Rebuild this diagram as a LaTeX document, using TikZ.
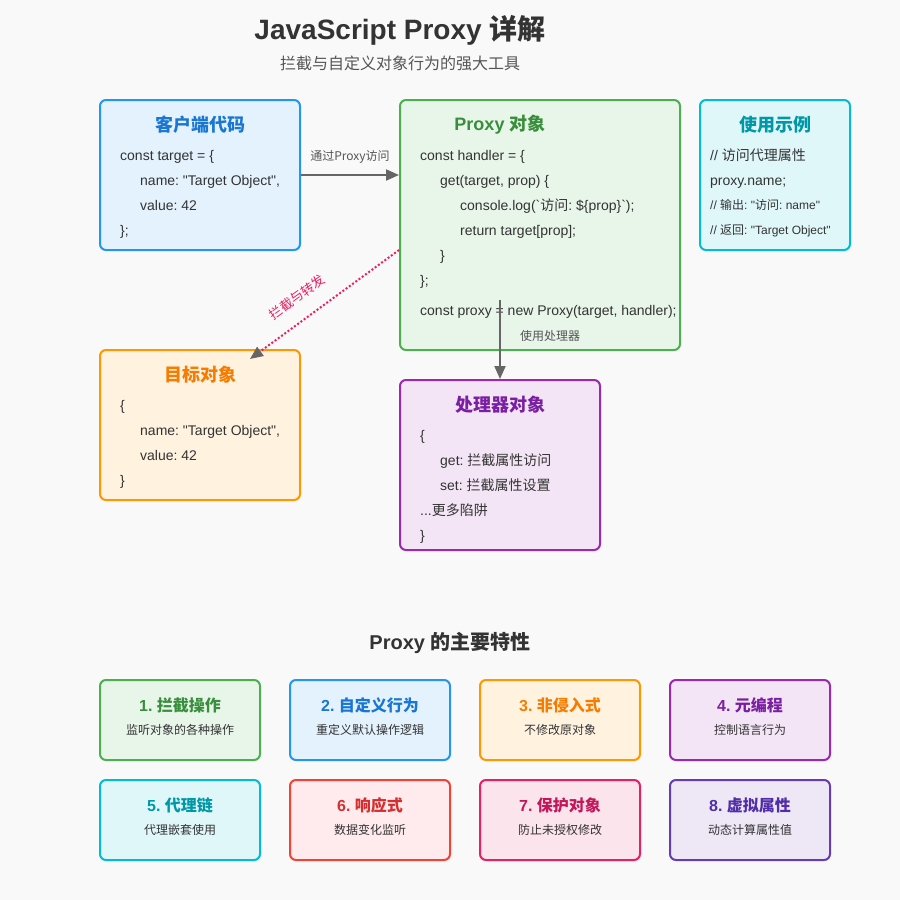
\documentclass[tikz,border=0pt]{standalone}
\usepackage{fontspec}
\newfontfamily\latin{Liberation Sans}
\newfontfamily\zh{Noto Sans CJK SC}
\usetikzlibrary{arrows.meta}
\definecolor{paper}{HTML}{F9F9F9}
\definecolor{ink}{HTML}{333333}
\definecolor{subink}{HTML}{555555}
\definecolor{arrowgray}{HTML}{666666}
\definecolor{linegreen}{HTML}{4CAF50}\definecolor{fillgreen}{HTML}{E8F5E9}\definecolor{textgreen}{HTML}{388E3C}
\definecolor{lineblue}{HTML}{2196F3}\definecolor{fillblue}{HTML}{E3F2FD}\definecolor{textblue}{HTML}{1976D2}
\definecolor{lineorange}{HTML}{FF9800}\definecolor{fillorange}{HTML}{FFF3E0}\definecolor{textorange}{HTML}{F57C00}
\definecolor{linepurple}{HTML}{9C27B0}\definecolor{fillpurple}{HTML}{F3E5F5}\definecolor{textpurple}{HTML}{7B1FA2}
\definecolor{linecyan}{HTML}{00BCD4}\definecolor{fillcyan}{HTML}{E0F7FA}\definecolor{textcyan}{HTML}{0097A7}
\definecolor{linered}{HTML}{F44336}\definecolor{fillred}{HTML}{FFEBEE}\definecolor{textred}{HTML}{D32F2F}
\definecolor{linepink}{HTML}{E91E63}\definecolor{fillpink}{HTML}{FCE4EC}\definecolor{textpink}{HTML}{C2185B}
\definecolor{lineviolet}{HTML}{673AB7}\definecolor{fillviolet}{HTML}{EDE7F6}\definecolor{textviolet}{HTML}{512DA8}
\tikzset{box/.style 2 args={draw=#1, fill=#2, line width=2pt, rounded corners=6pt, inner sep=0pt},
  head/.style={font=\latin\bfseries\fontsize{18}{20}\selectfont, text=#1},
  code/.style={font=\latin\fontsize{14}{16}\selectfont, text=ink, anchor=base west, inner sep=0pt, yshift=-5pt},
  small/.style={font=\latin\fontsize{12}{14}\selectfont, text=ink, anchor=base west, inner sep=0pt, yshift=-4pt},
  note/.style={font=\zh\fontsize{12}{14}\selectfont, text=#1},
  feathead/.style={font=\latin\bfseries\fontsize{16}{18}\selectfont, text=#1},
  featdesc/.style={font=\zh\fontsize{12}{14}\selectfont, text=ink},
  link/.style={-{Triangle[length=13pt, width=11pt]}, draw=arrowgray, line width=2pt},
  relay/.style={-{Triangle[length=13pt, width=11pt, color=arrowgray]}, draw=linepink, line width=2pt, dash pattern=on 2pt off 2pt}}
\frenchspacing

\begin{document}
\begin{tikzpicture}[x=1pt, y=-1pt]
  \fill[paper] (0,0) rectangle (900,900);
  \node[font=\latin\bfseries\fontsize{28}{32}\selectfont, text=ink] (title) at (400,30) {JavaScript Proxy {\zh 详解}};
  \node[font=\zh\fontsize{16}{18}\selectfont, text=subink] (subtitle) at (400,63) {拦截与自定义对象行为的强大工具};

  % main boxes
  \node[box={lineblue}{fillblue}, minimum width=200pt, minimum height=150pt] (client) at (200,175) {};
  \node[box={linegreen}{fillgreen}, minimum width=280pt, minimum height=250pt] (proxy) at (540,225) {};
  \node[box={linecyan}{fillcyan}, minimum width=150pt, minimum height=150pt] (usage) at (775,175) {};
  \node[box={lineorange}{fillorange}, minimum width=200pt, minimum height=150pt] (target) at (200,425) {};
  \node[box={linepurple}{fillpurple}, minimum width=200pt, minimum height=170pt] (handler) at (500,465) {};

  \node[head=textblue] (client-title) at (200,125) {\zh 客户端代码};
  \node[code] (client-1) at (120,155) {const target = \{};
  \node[code] (client-2) at (140,180) {name: "Target Object",};
  \node[code] (client-3) at (140,205) {value: 42};
  \node[code] (client-4) at (120,230) {\};};

  \node[head=textgreen] (proxy-title) at (500,125) {Proxy {\zh 对象}};
  \node[code] (proxy-1) at (420,155) {const handler = \{};
  \node[code] (proxy-2) at (440,180) {get(target, prop) \{};
  \node[code] (proxy-3) at (460,205) {console.log(`{\zh 访问}: \$\{prop\}`);};
  \node[code] (proxy-4) at (460,230) {return target[prop];};
  \node[code] (proxy-5) at (440,255) {\}};
  \node[code] (proxy-6) at (420,280) {\};};
  \node[code] (proxy-7) at (420,310) {const proxy = new Proxy(target, handler);};

  \node[head=textcyan] (usage-title) at (775,125) {\zh 使用示例};
  \node[code] (usage-1) at (710,155) {// {\zh 访问代理属性}};
  \node[code] (usage-2) at (710,180) {proxy.name;};
  \node[small] (usage-3) at (710,205) {// {\zh 输出}: "{\zh 访问}: name"};
  \node[small] (usage-4) at (710,230) {// {\zh 返回}: "Target Object"};

  \node[head=textorange] (target-title) at (200,375) {\zh 目标对象};
  \node[code] (target-1) at (120,405) {\{};
  \node[code] (target-2) at (140,430) {name: "Target Object",};
  \node[code] (target-3) at (140,455) {value: 42};
  \node[code] (target-4) at (120,480) {\}};

  \node[head=textpurple] (handler-title) at (500,405) {\zh 处理器对象};
  \node[code] (handler-1) at (420,435) {\{};
  \node[code] (handler-2) at (440,460) {get: {\zh 拦截属性访问}};
  \node[code] (handler-3) at (440,485) {set: {\zh 拦截属性设置}};
  \node[code] (handler-4) at (420,510) {...{\zh 更多陷阱}};
  \node[code] (handler-5) at (420,535) {\}};

  % connectors
  \draw[link] (client.east) -- (client.east -| proxy.west);
  \node[note=subink] (access-label) at (350,157) {通过Proxy访问};
  \coordinate (handler-from) at (500,300);
  \draw[link] (handler-from) -- (handler.north);
  \node[note=subink] (use-label) at (550,336) {使用处理器};
  \draw[relay] ([yshift=-25pt]proxy.west) -- ([xshift=50pt, yshift=-10pt]target.north);
  \node[note=linepink, font=\zh\fontsize{13}{15}\selectfont, rotate=36] (relay-label) at (297,297) {拦截与转发};

  % features
  \node[font=\latin\bfseries\fontsize{20}{22}\selectfont, text=ink] (features) at (450,643) {Proxy {\zh 的主要特性}};
  \foreach \i/\x/\y/\hue/\t/\d in {1/180/720/green/拦截操作/监听对象的各种操作,
    2/370/720/blue/自定义行为/重定义默认操作逻辑, 3/560/720/orange/非侵入式/不修改原对象,
    4/750/720/purple/元编程/控制语言行为, 5/180/820/cyan/代理链/代理嵌套使用,
    6/370/820/red/响应式/数据变化监听, 7/560/820/pink/保护对象/防止未授权修改,
    8/750/820/violet/虚拟属性/动态计算属性值} {
    \node[box={line\hue}{fill\hue}, minimum width=160pt, minimum height=80pt] (feat\i) at (\x,\y) {};
    \node[feathead=text\hue] (feat\i-title) at (\x,\y-15) {\i. {\zh \t}};
    \node[featdesc] (feat\i-desc) at (\x,\y+10) {\d};
  }
\end{tikzpicture}
\end{document}
